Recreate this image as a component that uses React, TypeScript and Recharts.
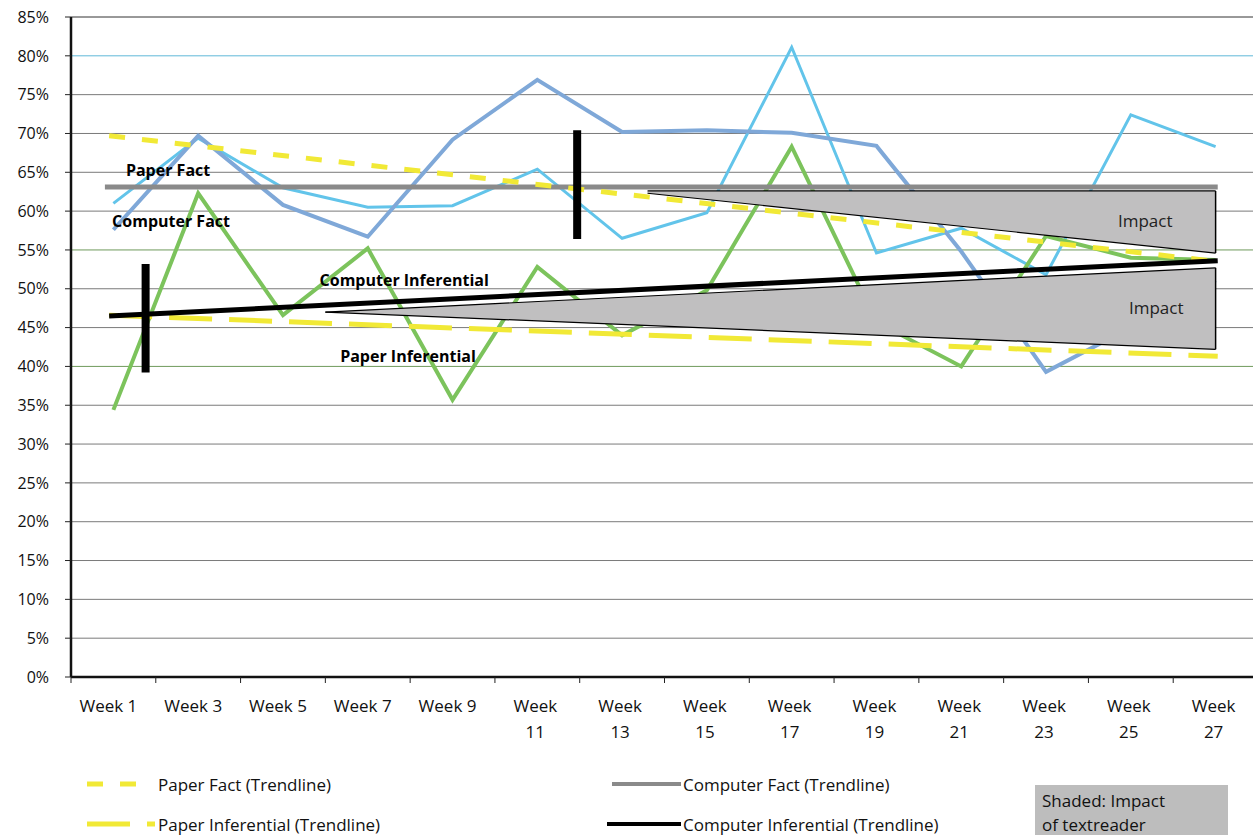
import { Area, ComposedChart, Line, ReferenceDot, ReferenceLine, XAxis, YAxis } from "recharts";

// weekly scores (%)
const WEEKS = [1, 3, 5, 7, 9, 11, 13, 15, 17, 19, 21, 23, 25, 27];
const LIGHT_BLUE = [61.0, 69.4, 63.0, 60.5, 60.7, 65.4, 56.5, 59.8, 81.1, 54.6, 57.8, 51.8, 72.4, 68.3];
const STEEL_BLUE = [57.6, 69.7, 60.8, 56.7, 69.2, 76.9, 70.2, 70.4, 70.1, 68.4, 54.8, 39.3, 45.0, 51.1];
const GREEN = [34.4, 62.3, 46.6, 55.2, 35.7, 52.8, 44.0, 49.8, 68.3, 45.7, 40.0, 56.8, 54.0, 53.7];

// trendlines: [start, end]
const TREND_WEEKS = [0.9, 27.05];
const PAPER_FACT_TREND = [69.7, 53.5];
const COMPUTER_FACT_WEEKS = [0.8, 27.05];
const COMPUTER_FACT_TREND = [63.1, 63.1];
const COMPUTER_INF_TREND = [46.5, 53.6];
const PAPER_INF_TREND = [46.6, 41.3];

// shaded impact wedges
const UPPER_IMPACT_WEEKS = [13.6, 27];
const UPPER_IMPACT_LOW = [62.3, 54.6];
const UPPER_IMPACT_HIGH = [62.6, 62.6];
const LOWER_IMPACT_WEEKS = [6.0, 27];
const LOWER_IMPACT_LOW = [47.0, 42.2];
const LOWER_IMPACT_HIGH = [47.0, 52.7];

// start of textreader use
const INTERVENTION_WEEKS = [1.76, 11.94];
const INTERVENTION_LOW = [39.2, 56.4];
const INTERVENTION_HIGH = [53.2, 70.4];

const Y_TICKS = [0, 5, 10, 15, 20, 25, 30, 35, 40, 45, 50, 55, 60, 65, 70, 75, 80, 85];
const X_TICKS = Array.from({ length: 29 }, (_, i) => i);

const NOTES = [
  { week: 2.29, value: 65.3, text: "Paper Fact", bold: true },
  { week: 2.36, value: 58.7, text: "Computer Fact", bold: true },
  { week: 7.86, value: 51.1, text: "Computer Inferential", bold: true },
  { week: 7.95, value: 41.3, text: "Paper Inferential", bold: true },
  { week: 25.34, value: 58.7, text: "Impact", bold: false },
  { week: 25.6, value: 47.5, text: "Impact", bold: false },
];

const FONT = "'Open Sans', Lato, sans-serif";
const YELLOW = "#f1e936";
const GRAY_TREND = "#8a8a8a";
const SHADE = "#c0bfc0";

const rows = WEEKS.map((week, i) => ({
  week,
  lightBlue: LIGHT_BLUE[i],
  steelBlue: STEEL_BLUE[i],
  green: GREEN[i],
}));

const pairs = (xs: number[], ys: number[]) => xs.map((week, i) => ({ week, v: ys[i] }));
const ranges = (xs: number[], lo: number[], hi: number[]) =>
  xs.map((week, i) => ({ week, range: [lo[i], hi[i]] }));

const gridColor = (v: number) => {
  if (v === 85) return "#333";
  if (v === 80) return "#5fb8d8";
  if (v === 55 || v === 40) return "#6f9a5c";
  return "#7a7a7a";
};

function WeekTick({ x, y, payload }: any) {
  const v = payload.value as number;
  if (v % 2 === 0) {
    return <line x1={x} x2={x} y1={y} y2={y + 6} stroke="#222" strokeWidth={1} />;
  }
  const style = { fontFamily: FONT, fontSize: 17, fill: "#111" };
  if (v < 10) {
    return (
      <text x={x - 5} y={y + 35} textAnchor="middle" {...style}>
        Week {v}
      </text>
    );
  }
  return (
    <text textAnchor="middle" {...style}>
      <tspan x={x - 2} y={y + 35}>Week</tspan>
      <tspan x={x - 2} y={y + 61}>{v}</tspan>
    </text>
  );
}

function Note({ cx, cy, text, bold }: any) {
  return (
    <text
      x={cx}
      y={cy}
      dy="0.35em"
      textAnchor="middle"
      fontFamily={FONT}
      fontSize={bold ? 16 : 17}
      fontWeight={bold ? 700 : 400}
      fill={bold ? "#000" : "#222"}
    >
      {text}
    </text>
  );
}

function LegendText({ left, top, children }: any) {
  return (
    <div style={{ position: "absolute", left, top, fontFamily: FONT, fontSize: 17, color: "#111", lineHeight: "20px" }}>
      {children}
    </div>
  );
}

export default function App() {
  return (
    <div style={{ position: "absolute", left: 0, top: 0, width: 1253, height: 835, overflow: "hidden", background: "#fff" }}>
      <ComposedChart width={1262} height={835} data={rows} margin={{ top: 17, right: 4, bottom: 0, left: 0 }}>
        {Y_TICKS.filter((v) => v > 0).map((v) => (
          <ReferenceLine key={v} y={v} stroke={gridColor(v)} strokeWidth={1} zIndex={-50} />
        ))}
        <XAxis
          dataKey="week"
          type="number"
          domain={[0, 28]}
          ticks={X_TICKS}
          interval={0}
          allowDataOverflow
          height={158}
          tickSize={0}
          tickMargin={0}
          tickLine={false}
          tick={<WeekTick />}
          axisLine={{ stroke: "#111", strokeWidth: 2.5 }}
        />
        <YAxis
          type="number"
          domain={[0, 85]}
          ticks={Y_TICKS}
          interval={0}
          width={71}
          tickSize={6}
          tickMargin={16}
          tickFormatter={(v) => `${v}%`}
          tick={{ fill: "#111", fontSize: 16, fontFamily: FONT }}
          tickLine={{ stroke: "#222" }}
          axisLine={{ stroke: "#111", strokeWidth: 2.5 }}
        />

        <Line dataKey="lightBlue" type="linear" stroke="#62c4ea" strokeWidth={3} dot={false} isAnimationActive={false} zIndex={100} />
        <Line dataKey="steelBlue" type="linear" stroke="#7fa8d8" strokeWidth={4} dot={false} isAnimationActive={false} zIndex={100} />
        <Line dataKey="green" type="linear" stroke="#7cc35c" strokeWidth={4} dot={false} isAnimationActive={false} zIndex={100} />

        <Area
          data={ranges(UPPER_IMPACT_WEEKS, UPPER_IMPACT_LOW, UPPER_IMPACT_HIGH)}
          dataKey="range"
          type="linear"
          fill={SHADE}
          fillOpacity={1}
          stroke="#000"
          strokeWidth={1.2}
          isAnimationActive={false}
          zIndex={500}
        />
        <Area
          data={ranges(LOWER_IMPACT_WEEKS, LOWER_IMPACT_LOW, LOWER_IMPACT_HIGH)}
          dataKey="range"
          type="linear"
          fill={SHADE}
          fillOpacity={1}
          stroke="#000"
          strokeWidth={1.2}
          isAnimationActive={false}
          zIndex={500}
        />
        <Line
          data={pairs([27, 27], [UPPER_IMPACT_LOW[1], UPPER_IMPACT_HIGH[1]])}
          dataKey="v"
          stroke="#000"
          strokeWidth={1.5}
          dot={false}
          isAnimationActive={false}
          zIndex={510}
        />
        <Line
          data={pairs([27, 27], [LOWER_IMPACT_LOW[1], LOWER_IMPACT_HIGH[1]])}
          dataKey="v"
          stroke="#000"
          strokeWidth={1.5}
          dot={false}
          isAnimationActive={false}
          zIndex={510}
        />

        <Line
          data={pairs(COMPUTER_FACT_WEEKS, COMPUTER_FACT_TREND)}
          dataKey="v"
          stroke={GRAY_TREND}
          strokeWidth={5}
          dot={false}
          isAnimationActive={false}
          zIndex={600}
        />
        <Line
          data={pairs(TREND_WEEKS, PAPER_FACT_TREND)}
          dataKey="v"
          stroke={YELLOW}
          strokeWidth={5}
          strokeDasharray="16 17"
          dot={false}
          isAnimationActive={false}
          zIndex={600}
        />
        <Line
          data={pairs(TREND_WEEKS, PAPER_INF_TREND)}
          dataKey="v"
          stroke={YELLOW}
          strokeWidth={5}
          strokeDasharray="43 17"
          dot={false}
          isAnimationActive={false}
          zIndex={600}
        />
        <Line
          data={pairs(TREND_WEEKS, COMPUTER_INF_TREND)}
          dataKey="v"
          stroke="#000"
          strokeWidth={5}
          dot={false}
          isAnimationActive={false}
          zIndex={610}
        />

        {INTERVENTION_WEEKS.map((w, i) => (
          <Line
            key={`iv${i}`}
            data={pairs([w, w], [INTERVENTION_LOW[i], INTERVENTION_HIGH[i]])}
            dataKey="v"
            stroke="#000"
            strokeWidth={8}
            dot={false}
            isAnimationActive={false}
            zIndex={700}
          />
        ))}

        {NOTES.map((n, i) => (
          <ReferenceDot
            key={`n${i}`}
            x={n.week}
            y={n.value}
            r={0}
            zIndex={800}
            shape={(p: any) => <Note cx={p.cx} cy={p.cy} text={n.text} bold={n.bold} />}
          />
        ))}
      </ComposedChart>

      {/* legend */}
      <svg style={{ position: "absolute", left: 0, top: 770 }} width={1253} height={65}>
        <line x1={87} x2={136} y1={14} y2={14} stroke={YELLOW} strokeWidth={5} strokeDasharray="16 17" />
        <line x1={87} x2={155} y1={54} y2={54} stroke={YELLOW} strokeWidth={5} strokeDasharray="43 17" />
        <line x1={612} x2={681} y1={14} y2={14} stroke={GRAY_TREND} strokeWidth={4} />
        <line x1={607} x2={681} y1={54} y2={54} stroke="#000" strokeWidth={4} />
        <rect x={1035} y={15} width={193} height={55} fill="#bdbdbd" />
      </svg>
      <LegendText left={158} top={775}>Paper Fact (Trendline)</LegendText>
      <LegendText left={158} top={815}>Paper Inferential (Trendline)</LegendText>
      <LegendText left={683} top={775}>Computer Fact (Trendline)</LegendText>
      <LegendText left={683} top={815}>Computer Inferential (Trendline)</LegendText>
      <LegendText left={1042} top={791}>Shaded: Impact</LegendText>
      <LegendText left={1042} top={815}>of textreader</LegendText>
    </div>
  );
}
